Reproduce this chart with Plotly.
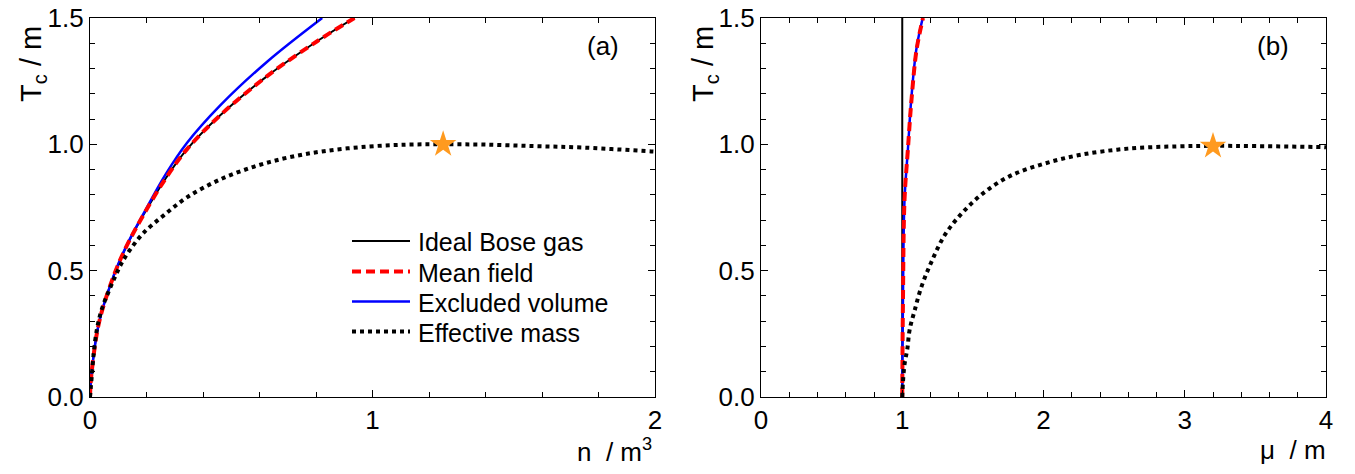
import plotly.graph_objects as go

W, H = 1355, 474

# ---------------- Panel (a): Tc vs n ----------------
n_ideal = [0, 0.002, 0.008, 0.024, 0.041, 0.071, 0.100, 0.136, 0.189, 0.266, 0.343, 0.461, 0.627, 0.804, 0.936]
T_ideal = [0, 0.05, 0.12, 0.25, 0.335, 0.44, 0.525, 0.612, 0.72, 0.862, 0.98, 1.115, 1.27, 1.408, 1.500]

n_mf = [0, 0.002, 0.008, 0.024, 0.041, 0.071, 0.100, 0.136, 0.189, 0.266, 0.343, 0.461, 0.627, 0.804, 0.936]
T_mf = [0, 0.05, 0.12, 0.25, 0.335, 0.44, 0.525, 0.612, 0.72, 0.862, 0.98, 1.115, 1.27, 1.408, 1.500]

n_ev = [0, 0.002, 0.008, 0.024, 0.041, 0.071, 0.100, 0.136, 0.189, 0.266, 0.343, 0.461, 0.627, 0.822]
T_ev = [0, 0.05, 0.12, 0.25, 0.335, 0.44, 0.526, 0.614, 0.725, 0.878, 1.005, 1.154, 1.327, 1.500]

n_em = [0, 0.003, 0.006, 0.012, 0.024, 0.041, 0.065, 0.089, 0.112, 0.142, 0.189, 0.260, 0.343, 0.455,
        0.579, 0.698, 0.828, 0.981, 1.123, 1.251, 1.395, 1.572, 1.749, 1.986, 2.0]
T_em = [0, 0.04, 0.079, 0.159, 0.265, 0.345, 0.415, 0.477, 0.530, 0.583, 0.649, 0.718, 0.790, 0.858,
        0.911, 0.947, 0.973, 0.991, 0.999, 1.000, 0.999, 0.993, 0.987, 0.972, 0.971]

star_a = ([1.25], [1.0])

# ---------------- Panel (b): Tc vs mu ----------------
mu_ideal = [1.0, 1.0]
Tb_ideal = [0.0, 1.5]

mu_mf = [1.0, 1.001, 1.005, 1.016, 1.040, 1.066, 1.102, 1.147]
Tb_mf = [0.0, 0.10, 0.38, 0.78, 0.98, 1.18, 1.377, 1.500]

mu_ev = [1.0, 1.001, 1.005, 1.016, 1.040, 1.064, 1.100, 1.145]
Tb_ev = [0.0, 0.10, 0.38, 0.78, 0.98, 1.18, 1.377, 1.500]

mu_em = [1.000, 1.005, 1.017, 1.036, 1.052, 1.088, 1.135, 1.206, 1.300, 1.430, 1.583, 1.772,
         2.008, 2.267, 2.597, 2.951, 3.200, 3.500, 3.966, 4.0]
Tb_em = [0.0, 0.06, 0.133, 0.19, 0.265, 0.343, 0.435, 0.534, 0.640, 0.732, 0.811, 0.877,
         0.924, 0.959, 0.983, 0.992, 0.994, 0.993, 0.989, 0.988]

star_b = ([3.2], [0.993])

names = ["Ideal Bose gas", "Mean field", "Excluded volume", "Effective mass"]
FONT = "Liberation Sans, Arial, sans-serif"
STAR = "#FF9A1F"
RED_DASH = "9px,5px"
DOT = "4px,4px"
styles = [
    dict(color="black", width=2),
    dict(color="#FF0000", width=4, dash=RED_DASH),
    dict(color="#0000FF", width=2.5),
    dict(color="black", width=4, dash=DOT),
]

fig = go.Figure()

def add_panel(xa, ya, series, star):
    # draw order: ideal, excluded volume, mean field (on top), effective mass
    for idx in [0, 2, 1, 3]:
        xs, ys = series[idx]
        fig.add_trace(go.Scatter(x=xs, y=ys, mode="lines", name=names[idx], showlegend=False,
                                 line=dict(shape="spline", smoothing=1.0, **styles[idx]),
                                 xaxis=xa, yaxis=ya))
    fig.add_trace(go.Scatter(x=star[0], y=star[1], mode="markers", showlegend=False,
                             marker=dict(symbol="star", size=20, color=STAR, line=dict(width=0)),
                             xaxis=xa, yaxis=ya))

add_panel("x", "y", [(n_ideal, T_ideal), (n_mf, T_mf), (n_ev, T_ev), (n_em, T_em)], star_a)
add_panel("x2", "y2", [(mu_ideal, Tb_ideal), (mu_mf, Tb_mf), (mu_ev, Tb_ev), (mu_em, Tb_em)], star_b)

def px_x(p):
    return p / W

def px_y(p):
    return 1 - p / H

TICKF = 26
axis_common = dict(showline=True, linecolor="black", linewidth=1.3, mirror="allticks",
                   ticks="inside", ticklen=7, tickwidth=1.2, tickcolor="black",
                   showgrid=False, zeroline=False, automargin=False,
                   tickfont=dict(family=FONT, size=TICKF, color="black"))

fig.update_layout(
    width=W, height=H,
    margin=dict(l=0, r=0, t=0, b=0),
    paper_bgcolor="white", plot_bgcolor="white",
    font=dict(family=FONT, color="black"),
    showlegend=False,
    xaxis=dict(domain=[px_x(90), px_x(655)], range=[0, 2], dtick=1, anchor="y",
               minor=dict(dtick=0.2, ticks="inside", ticklen=5, tickcolor="black"), **axis_common),
    yaxis=dict(domain=[px_y(397), px_y(18)], range=[0, 1.5], dtick=0.5, tickformat=".1f", anchor="x",
               minor=dict(dtick=0.1, ticks="inside", ticklen=5, tickcolor="black"), **axis_common),
    xaxis2=dict(domain=[px_x(761), px_x(1326)], range=[0, 4], dtick=1, anchor="y2",
                minor=dict(dtick=0.2, ticks="inside", ticklen=5, tickcolor="black"), **axis_common),
    yaxis2=dict(domain=[px_y(397), px_y(18)], range=[0, 1.5], dtick=0.5, tickformat=".1f", anchor="x2",
                minor=dict(dtick=0.1, ticks="inside", ticklen=5, tickcolor="black"), **axis_common),
)

# ---- legend drawn inside panel (a) ----
leg_y = [241, 271.5, 301.5, 331.5]
for i, yy in enumerate(leg_y):
    st = styles[i]
    fig.add_shape(type="line", xref="paper", yref="paper",
                  x0=px_x(352), x1=px_x(410), y0=px_y(yy), y1=px_y(yy),
                  line=dict(color=st["color"], width=st["width"], dash=st.get("dash", "solid")))
    fig.add_annotation(text=names[i], x=px_x(416), y=px_y(yy + 1), xref="paper", yref="paper",
                       xanchor="left", yanchor="middle", showarrow=False,
                       font=dict(family=FONT, size=25, color="black"))

ann_font = dict(family=FONT, size=26, color="black")
ytitle_font = dict(family=FONT, size=29, color="black")
fig.add_annotation(text="T<sub>c</sub> / m", x=px_x(33), y=px_y(64), xref="paper", yref="paper",
                   xanchor="center", yanchor="middle", textangle=-90, showarrow=False, font=ytitle_font)
fig.add_annotation(text="T<sub>c</sub> / m", x=px_x(705), y=px_y(64), xref="paper", yref="paper",
                   xanchor="center", yanchor="middle", textangle=-90, showarrow=False, font=ytitle_font)
fig.add_annotation(text="n  / m<sup>3</sup>", x=px_x(654), y=px_y(450), xref="paper", yref="paper",
                   xanchor="right", yanchor="middle", showarrow=False, font=ann_font)
fig.add_annotation(text="μ  / m", x=px_x(1328), y=px_y(450), xref="paper", yref="paper",
                   xanchor="right", yanchor="middle", showarrow=False, font=ann_font)
fig.add_annotation(text="(a)", x=px_x(603), y=px_y(46), xref="paper", yref="paper",
                   xanchor="center", yanchor="middle", showarrow=False, font=ann_font)
fig.add_annotation(text="(b)", x=px_x(1273), y=px_y(46), xref="paper", yref="paper",
                   xanchor="center", yanchor="middle", showarrow=False, font=ann_font)

fig.write_html("out.html")
